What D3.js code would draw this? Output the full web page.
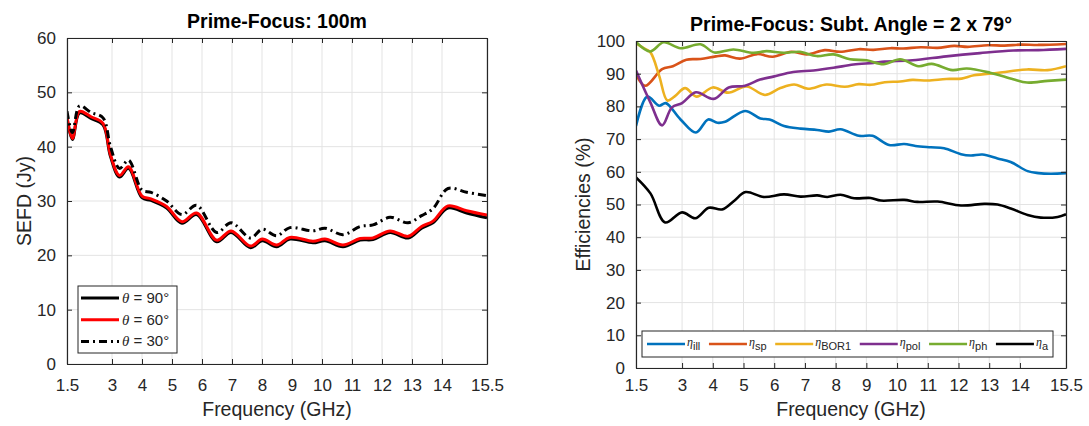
<!DOCTYPE html>
<html>
<head>
<meta charset="utf-8">
<script src="https://cdn.jsdelivr.net/npm/d3@7"></script>
<style>
body { margin: 0; background: #fff; }
svg text { font-family: "Liberation Sans", Arial, Helvetica, sans-serif; fill: #262626; }
</style>
</head>
<body>
<svg id="chart" width="1089" height="426"></svg>
<script>
// ----- data -----
var freqTicks = [1.5, 3, 4, 5, 6, 7, 8, 9, 10, 11, 12, 13, 14, 15.5];
var sefdTicks = [0, 10, 20, 30, 40, 50, 60];
var effTicks = [0, 10, 20, 30, 40, 50, 60, 70, 80, 90, 100];

// left panel: SEFD (Jy)
var sefdFreq = [1.5, 1.68, 1.92, 2.3, 2.7, 2.95, 3.25, 3.55, 4.0, 4.3, 4.82, 5.33, 5.82, 6.49, 6.97, 7.62, 8.01, 8.49, 8.93, 9.7, 10.1, 10.7, 11.27, 11.7, 12.27, 12.87, 13.32, 13.7, 14.2, 14.82, 15.5];
var sefd90 = [45.3, 41.3, 46.2, 45.2, 44.0, 38.2, 34.4, 36.0, 30.6, 30.1, 28.7, 25.9, 27.5, 22.5, 24.2, 21.4, 22.7, 21.6, 23.0, 22.3, 22.7, 21.6, 22.8, 22.9, 24.2, 23.2, 25.0, 26.0, 28.7, 27.8, 26.9];
var sefd60 = [45.5, 41.5, 46.5, 45.5, 44.3, 38.5, 34.7, 36.3, 30.9, 30.4, 29.0, 26.2, 27.8, 22.8, 24.5, 21.7, 23.0, 21.9, 23.3, 22.6, 23.0, 21.9, 23.1, 23.2, 24.5, 23.5, 25.3, 26.3, 29.1, 28.2, 27.4];
var sefd30 = [46.5, 42.6, 47.5, 46.3, 45.3, 40.0, 36.0, 37.5, 32.0, 31.6, 30.0, 27.5, 29.2, 24.2, 26.0, 23.2, 24.8, 23.6, 25.1, 24.5, 25.0, 23.8, 25.3, 25.6, 27.0, 26.0, 27.3, 28.6, 32.3, 31.6, 31.0];

// right panel: efficiencies (%)
var illFreq = [1.5, 1.87, 2.25, 2.47, 2.95, 3.45, 3.85, 4.15, 4.4, 5.05, 5.55, 5.85, 6.32, 6.86, 7.4, 7.78, 8.16, 8.76, 9.2, 9.74, 10.23, 10.6, 11.1, 11.53, 12.08, 12.4, 12.78, 13.27, 13.7, 14.25, 14.6, 15.0, 15.5];
var illEff = [74.0, 83.0, 80.2, 81.0, 76.0, 72.0, 76.0, 75.0, 75.3, 78.6, 76.3, 76.0, 74.0, 73.2, 72.8, 72.3, 73.0, 71.0, 71.0, 68.2, 68.5, 67.9, 67.5, 67.2, 65.4, 65.0, 65.3, 64.1, 63.0, 60.2, 59.6, 59.4, 59.6];

var spFreq = [1.5, 1.8, 2.35, 2.7, 3.14, 3.6, 4.1, 4.4, 4.88, 5.45, 5.95, 6.55, 7.06, 7.65, 8.15, 8.75, 9.23, 9.78, 10.2, 10.77, 11.32, 11.86, 12.3, 12.95, 13.5, 14.03, 14.6, 15.5];
var spEff = [89.8, 86.3, 91.4, 92.3, 94.3, 94.5, 95.3, 95.6, 94.6, 96.0, 95.2, 96.7, 95.9, 97.2, 96.7, 97.5, 97.3, 97.8, 97.7, 98.1, 97.9, 98.5, 98.2, 98.7, 98.6, 98.9, 98.8, 99.1];

var bor1Freq = [1.5, 1.75, 1.97, 2.25, 2.52, 2.75, 3.1, 3.47, 4.0, 4.5, 5.1, 5.7, 6.2, 6.65, 7.1, 7.7, 8.3, 8.75, 9.15, 9.6, 10.1, 10.5, 11.0, 11.6, 12.1, 12.5, 13.3, 14.23, 14.9, 15.5];
var bor1Eff = [99.3, 97.8, 96.5, 89.5, 81.8, 83.0, 85.6, 83.0, 85.8, 84.2, 86.1, 83.5, 85.6, 86.7, 85.4, 86.7, 86.0, 86.8, 86.6, 87.4, 87.6, 88.1, 87.9, 88.4, 88.5, 89.5, 90.3, 91.3, 91.1, 92.3];

var polFreq = [1.5, 1.96, 2.35, 2.67, 3.0, 3.45, 4.03, 4.52, 5.05, 5.54, 5.97, 6.62, 7.28, 7.93, 8.58, 9.23, 9.6, 10.5, 11.6, 12.7, 13.78, 14.6, 15.5];
var polEff = [91.0, 81.4, 74.2, 79.7, 81.0, 84.3, 82.3, 85.8, 86.3, 88.2, 89.1, 90.5, 91.0, 91.8, 92.8, 93.3, 93.7, 94.1, 95.3, 96.3, 97.1, 97.2, 97.6];

var phFreq = [1.5, 1.96, 2.4, 2.95, 3.6, 4.05, 4.67, 5.32, 5.75, 6.3, 6.84, 7.38, 7.93, 8.47, 9.01, 9.56, 10.1, 10.7, 11.13, 11.8, 12.27, 13.03, 13.78, 14.23, 14.9, 15.5];
var phEff = [99.7, 96.8, 99.6, 97.8, 99.0, 96.5, 97.4, 96.4, 96.9, 96.4, 96.7, 95.4, 95.9, 94.4, 94.1, 92.9, 94.4, 92.3, 93.0, 91.1, 91.6, 90.3, 88.3, 87.3, 87.8, 88.2];

var apFreq = [1.5, 1.97, 2.45, 3.0, 3.43, 3.87, 4.3, 4.68, 5.07, 5.66, 6.32, 6.86, 7.4, 7.73, 8.16, 8.6, 9.14, 9.47, 10.23, 10.66, 11.32, 12.08, 12.84, 13.27, 13.7, 14.25, 14.68, 15.23, 15.5];
var apEff = [58.3, 53.4, 44.5, 47.6, 45.8, 49.0, 48.5, 51.0, 53.8, 52.3, 53.1, 52.4, 52.8, 52.3, 53.0, 51.9, 52.0, 51.2, 51.4, 50.8, 50.9, 49.7, 50.2, 50.0, 48.8, 46.8, 46.0, 46.2, 47.0];

var svg = d3.select("#chart");

// builds one MATLAB-like panel: grid, boxed axes with inward ticks, title, labels
function makePanel(id, box, yTicks, title, yLabel, xPad, yLabelX) {
    var x = d3.scaleLinear().domain([1.5, 15.5]).range([box.left, box.right]);
    var y = d3.scaleLinear().domain([0, d3.max(yTicks)]).range([box.bottom, box.top]);
    var g = svg.append("g");

    svg.append("clipPath").attr("id", id)
        .append("rect")
        .attr("x", box.left).attr("y", box.top)
        .attr("width", box.right - box.left).attr("height", box.bottom - box.top);

    // grid
    g.selectAll(".vg").data(freqTicks).enter().append("line")
        .attr("x1", function(d) { return x(d); }).attr("x2", function(d) { return x(d); })
        .attr("y1", box.top).attr("y2", box.bottom)
        .attr("stroke", "#e3e3e3").attr("stroke-width", 1);
    g.selectAll(".hg").data(yTicks).enter().append("line")
        .attr("x1", box.left).attr("x2", box.right)
        .attr("y1", function(d) { return y(d); }).attr("y2", function(d) { return y(d); })
        .attr("stroke", "#e3e3e3").attr("stroke-width", 1);

    var plot = g.append("g").attr("clip-path", "url(#" + id + ")");

    // axes
    var ax = g.append("g");
    ax.append("g").attr("transform", "translate(0," + box.bottom + ")")
        .call(d3.axisBottom(x).tickValues(freqTicks).tickSize(-5).tickSizeOuter(0).tickPadding(xPad)
            .tickFormat(function(d) { return d; }));
    ax.append("g").attr("transform", "translate(0," + box.top + ")")
        .call(d3.axisTop(x).tickValues(freqTicks).tickSize(-5).tickSizeOuter(0).tickFormat(""));
    ax.append("g").attr("transform", "translate(" + box.left + ",0)")
        .call(d3.axisLeft(y).tickValues(yTicks).tickSize(-5).tickSizeOuter(0).tickPadding(11));
    ax.append("g").attr("transform", "translate(" + box.right + ",0)")
        .call(d3.axisRight(y).tickValues(yTicks).tickSize(-5).tickSizeOuter(0).tickFormat(""));
    ax.selectAll("path, line").attr("stroke", "#262626");
    ax.selectAll(".domain").attr("stroke-width", 1.2);
    ax.selectAll("text").attr("font-size", 17).attr("fill", "#262626")
        .style("font-family", "\"Liberation Sans\", Arial, sans-serif");

    // title and labels
    g.append("text").attr("x", (box.left + box.right) / 2).attr("y", box.top - 10)
        .attr("text-anchor", "middle").attr("font-size", 19.5).attr("font-weight", "bold")
        .style("fill", "#000").text(title);
    g.append("text").attr("x", (box.left + box.right) / 2).attr("y", 416)
        .attr("text-anchor", "middle").attr("font-size", 19.5).text("Frequency (GHz)");
    g.append("text")
        .attr("transform", "translate(" + yLabelX + "," + (box.top + box.bottom) / 2 + ") rotate(-90)")
        .attr("text-anchor", "middle").attr("font-size", 19.5).text(yLabel);

    return { x: x, y: y, g: g, plot: plot, ax: ax };
}

var curve = d3.curveCatmullRom.alpha(0.5);

function drawLine(p, fs, vs, color, width, dash) {
    var pts = fs.map(function(f, i) { return [f, vs[i]]; });
    var line = d3.line()
        .x(function(d) { return p.x(d[0]); })
        .y(function(d) { return p.y(d[1]); })
        .curve(curve);
    p.plot.append("path").datum(pts)
        .attr("d", line)
        .attr("fill", "none")
        .attr("stroke", color)
        .attr("stroke-width", width)
        .attr("stroke-linejoin", "round")
        .attr("stroke-dasharray", dash || null);
}

// ----- left panel -----
var left = makePanel("clipL", { left: 67, right: 487, top: 38, bottom: 364 }, sefdTicks,
    "Prime-Focus: 100m", "SEFD (Jy)", 15, 31);

var sefdSeries = [
    { label: "90", vals: sefd90, color: "#000000", dash: null },
    { label: "60", vals: sefd60, color: "#ff0000", dash: null },
    { label: "30", vals: sefd30, color: "#000000", dash: "8,4,2,4" }
];
sefdSeries.forEach(function(s) { drawLine(left, sefdFreq, s.vals, s.color, 3, s.dash); });

// left legend
var lg = left.g.append("g").attr("transform", "translate(78,286)");
lg.append("rect").attr("width", 99).attr("height", 67)
    .attr("fill", "#fff").attr("stroke", "#262626").attr("stroke-width", 1);
sefdSeries.forEach(function(s, i) {
    var yy = 12 + i * 21.7;
    lg.append("line").attr("x1", 3).attr("x2", 41).attr("y1", yy).attr("y2", yy)
        .attr("stroke", s.color).attr("stroke-width", 3).attr("stroke-dasharray", s.dash);
    var t = lg.append("text").attr("x", 44).attr("y", yy + 5).attr("font-size", 15);
    t.append("tspan").attr("font-style", "italic")
        .style("font-family", "\"Liberation Serif\", \"Times New Roman\", serif").text("\u03b8");
    t.append("tspan").text(" = " + s.label + "\u00b0");
});

// ----- right panel -----
var right = makePanel("clipR", { left: 636, right: 1066, top: 41, bottom: 368 }, effTicks,
    "Prime-Focus: Subt. Angle = 2 x 79\u00b0", "Efficiencies (%)", 11, 590);

var effSeries = [
    { sub: "ill", f: illFreq, v: illEff, color: "#0072BD" },
    { sub: "sp", f: spFreq, v: spEff, color: "#D95319" },
    { sub: "BOR1", f: bor1Freq, v: bor1Eff, color: "#EDB120" },
    { sub: "pol", f: polFreq, v: polEff, color: "#7E2F8E" },
    { sub: "ph", f: phFreq, v: phEff, color: "#77AC30" },
    { sub: "a", f: apFreq, v: apEff, color: "#000000" }
];
effSeries.forEach(function(s) { drawLine(right, s.f, s.v, s.color, 2.6); });

// right legend, one row, spaced out to fill its box
var rg = right.g.append("g").attr("transform", "translate(642,331)");
var boxW = 411;
rg.append("rect").attr("height", 26).attr("width", boxW)
    .attr("fill", "#fff").attr("stroke", "#262626").attr("stroke-width", 1);
var items = effSeries.map(function(s) {
    var it = rg.append("g");
    it.append("line").attr("x1", 0).attr("x2", 38).attr("y1", 13).attr("y2", 13)
        .attr("stroke", s.color).attr("stroke-width", 2.6);
    var t = it.append("text").attr("x", 40).attr("y", 15).attr("font-size", 12);
    t.append("tspan").attr("font-style", "italic")
        .style("font-family", "\"Liberation Serif\", \"Times New Roman\", serif").text("\u03b7");
    t.append("tspan").attr("dy", 4).attr("font-size", 11).text(s.sub);
    return { g: it, w: 40 + t.node().getComputedTextLength() };
});
var used = d3.sum(items, function(d) { return d.w; });
var gap = (boxW - 10 - used) / (items.length - 1);
var cx = 5;
items.forEach(function(d) {
    d.g.attr("transform", "translate(" + cx + ",0)");
    cx += d.w + gap;
});
</script>
</body>
</html>
